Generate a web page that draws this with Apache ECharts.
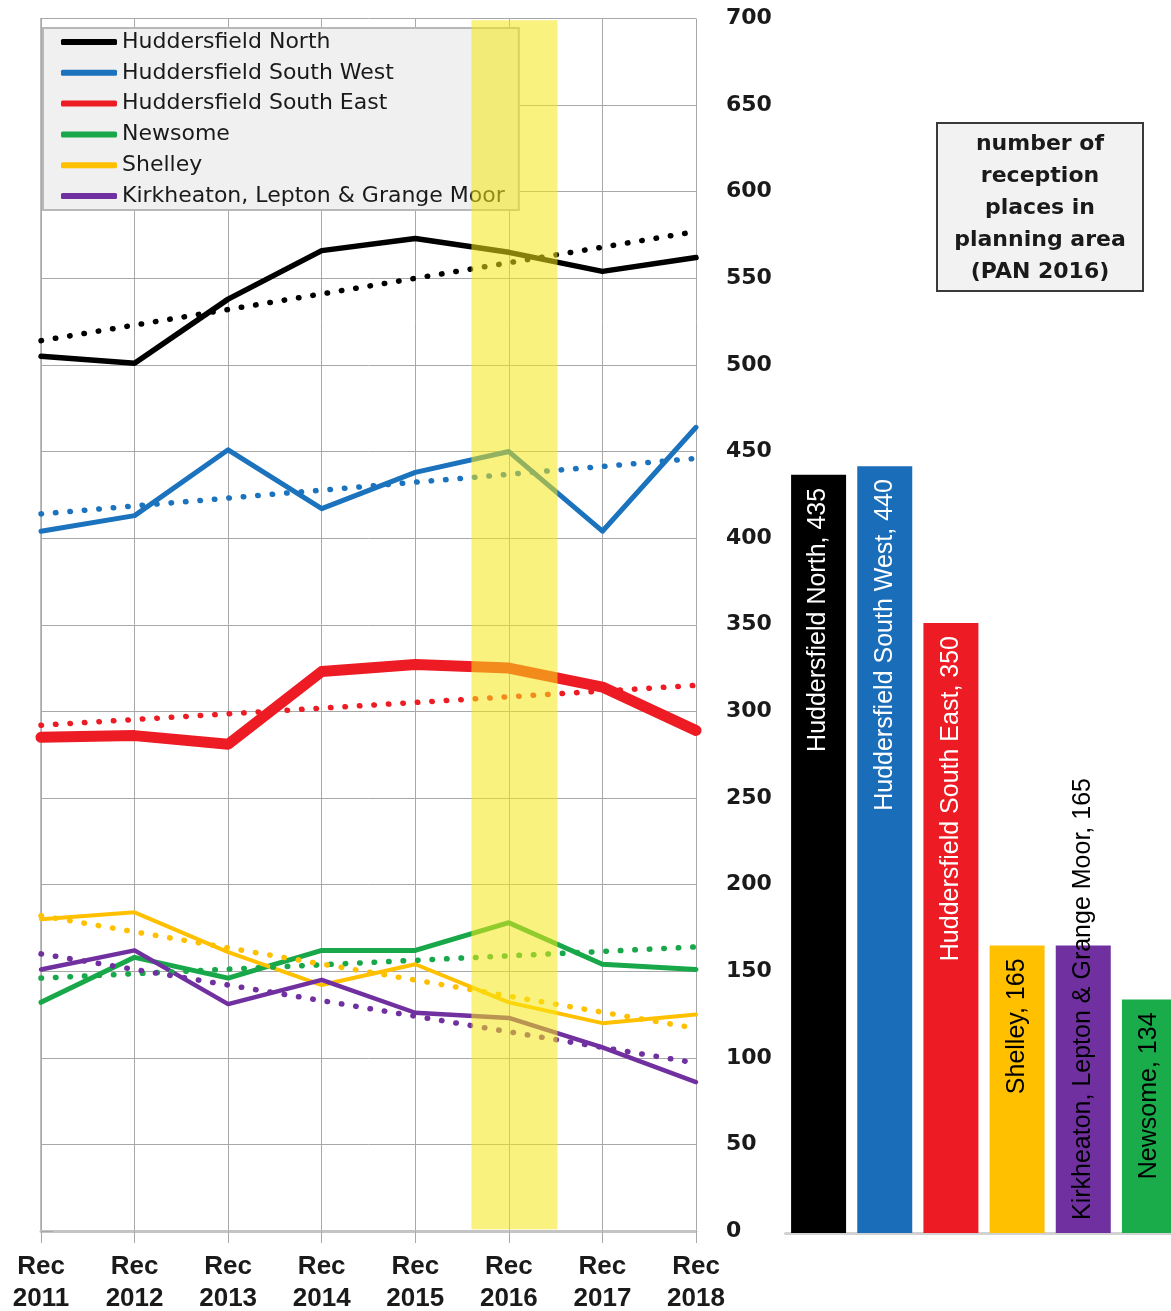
<!DOCTYPE html>
<html>
<head>
<meta charset="utf-8">
<title>Reception places by planning area</title>
<script src="https://cdn.jsdelivr.net/npm/echarts@6/dist/echarts.min.js"></script>
<style>
  html, body { margin: 0; padding: 0; background: #ffffff; }
  #chart { width: 1171px; height: 1311px; }
</style>
</head>
<body>
<div id="chart"></div>
<script>
// Intake years on the horizontal axis
const years = ['Rec\n2011', 'Rec\n2012', 'Rec\n2013', 'Rec\n2014', 'Rec\n2015', 'Rec\n2016', 'Rec\n2017', 'Rec\n2018'];

// Planning areas, in legend order
const areaNames = [
  'Huddersfield North',
  'Huddersfield South West',
  'Huddersfield South East',
  'Newsome',
  'Shelley',
  'Kirkheaton, Lepton & Grange Moor'
];

// Reception numbers per year for each planning area
const north      = [505, 501, 538, 566, 573, 565, 554, 562];
const southWest  = [404, 413, 451, 417, 438, 450, 404, 464];
const southEast  = [285, 286, 281, 323, 327, 325, 314, 289];
const newsome    = [132, 158, 146, 162, 162, 178, 154, 151];
const shelley    = [180, 184, 161, 142, 154, 132, 120, 125];
const kirkheaton = [151, 162, 131, 145, 126, 123, 106, 86];

// Linear trend lines: value at Rec 2011 and at Rec 2018 for each area
const trendStart = [514, 414, 292, 146, 182, 160];
const trendEnd   = [577, 446, 315, 164, 117, 97];

// Published admission numbers (PAN 2016) per planning area
const panNames  = ['Huddersfield North', 'Huddersfield South West', 'Huddersfield South East', 'Shelley', 'Kirkheaton, Lepton & Grange Moor', 'Newsome'];
const panPlaces = [435, 440, 350, 165, 165, 134];

// Value-axis ticks
const yMin = 0, yMax = 700, yStep = 50;

// Highlighted year (Rec 2016) band, in category-index units
const highlightFrom = 4.6, highlightTo = 5.52;

const areaSeries = [north, southWest, southEast, newsome, shelley, kirkheaton];
const lineColors = ['#000000', '#1b72bd', '#ed1c24', '#18a84a', '#ffc000', '#7030a0'];
const lineWidths = [5.5, 5, 11, 5, 4, 4.5];
const barColors  = {
  'Huddersfield North': '#000000',
  'Huddersfield South West': '#1a6eb9',
  'Huddersfield South East': '#ed1c24',
  'Shelley': '#ffc000',
  'Kirkheaton, Lepton & Grange Moor': '#7030a0',
  'Newsome': '#1aab4b'
};
const darkBars = ['Huddersfield North', 'Huddersfield South West', 'Huddersfield South East'];

const chart = echarts.init(document.getElementById('chart'), null, { renderer: 'canvas' });

const gridColor = '#a8a8a8';
const series = [];

// Yearly lines
areaSeries.forEach((values, i) => {
  series.push({
    name: areaNames[i],
    type: 'line',
    xAxisIndex: 0,
    yAxisIndex: 0,
    data: values,
    symbol: 'none',
    z: 3,
    lineStyle: { color: lineColors[i], width: lineWidths[i], cap: 'round', join: 'round' },
    itemStyle: { color: lineColors[i] },
    emphasis: { disabled: true }
  });
});

// Dotted trend lines
areaSeries.forEach((values, i) => {
  series.push({
    name: areaNames[i] + ' (trend)',
    type: 'line',
    xAxisIndex: 1,
    yAxisIndex: 0,
    data: [[0, trendStart[i]], [years.length - 1, trendEnd[i]]],
    symbol: 'none',
    z: 3,
    lineStyle: { color: lineColors[i], width: 5.5, type: [0.5, 14], cap: 'round' },
    emphasis: { disabled: true }
  });
});

// Translucent band marking the PAN year, laid over lines and legend
series.push({
  name: 'band',
  type: 'line',
  xAxisIndex: 1,
  yAxisIndex: 0,
  data: [],
  z: 20,
  silent: true,
  markArea: {
    silent: true,
    z: 20,
    itemStyle: { color: 'rgba(246, 232, 20, 0.55)' },
    data: [[{ xAxis: highlightFrom, yAxis: 1 }, { xAxis: highlightTo, yAxis: yMax - 1 }]]
  }
});

// PAN bars with rotated labels
series.push({
  name: 'PAN 2016',
  type: 'bar',
  xAxisIndex: 2,
  yAxisIndex: 1,
  barWidth: 55,
  z: 3,
  data: panPlaces.map((v, i) => {
    const name = panNames[i];
    const longLabel = name === 'Kirkheaton, Lepton & Grange Moor';
    return {
      value: v,
      itemStyle: { color: barColors[name] },
      label: {
        color: darkBars.includes(name) ? '#ffffff' : '#000000',
        position: longLabel ? 'insideBottom' : 'insideTop',
        align: longLabel ? 'left' : 'right'
      }
    };
  }),
  label: {
    show: true,
    rotate: 90,
    distance: 13,
    verticalAlign: 'middle',
    formatter: '{b}, {c}',
    fontFamily: "'Liberation Sans', sans-serif",
    fontSize: 25
  },
  emphasis: { disabled: true }
});

const option = {
  animation: false,
  backgroundColor: '#ffffff',
  legend: {
    data: areaNames,
    orient: 'vertical',
    left: 43,
    top: 28,
    z: 5,
    backgroundColor: '#f0f0f0',
    borderColor: '#b8b8b8',
    borderWidth: 2,
    padding: [2, 14, 2, 18],
    itemWidth: 56,
    itemHeight: 6,
    itemGap: 6.8,
    icon: 'roundRect',
    selectedMode: false,
    textStyle: {
      fontFamily: "'DejaVu Sans', sans-serif",
      fontSize: 22,
      lineHeight: 24,
      color: '#1a1a1a'
    }
  },
  grid: [
    { left: 41, right: 475, top: 18.5, bottom: 80, outerBoundsMode: 'none', containLabel: false },
    { left: 785.5, width: 397, top: 13, bottom: 78, outerBoundsMode: 'none', containLabel: false }
  ],
  xAxis: [
    {
      type: 'category',
      gridIndex: 0,
      data: years,
      boundaryGap: false,
      axisLine: { show: true, lineStyle: { color: '#c4c4c4', width: 3 } },
      axisTick: { show: true, length: 12, lineStyle: { color: gridColor, width: 1 } },
      splitLine: { show: true, lineStyle: { color: gridColor, width: 1 } },
      axisLabel: {
        margin: 20,
        color: '#1a1a1a',
        fontFamily: "'Liberation Sans', sans-serif",
        fontWeight: 'bold',
        fontSize: 26,
        lineHeight: 32
      }
    },
    {
      type: 'value',
      gridIndex: 0,
      min: 0,
      max: years.length - 1,
      show: false
    },
    {
      type: 'category',
      gridIndex: 1,
      data: panNames,
      axisLine: { show: true, lineStyle: { color: '#d2d2d2', width: 3 } },
      axisTick: { show: false },
      axisLabel: { show: false },
      splitLine: { show: false }
    }
  ],
  yAxis: [
    {
      type: 'value',
      gridIndex: 0,
      position: 'right',
      min: yMin,
      max: yMax,
      interval: yStep,
      axisLine: { show: true, lineStyle: { color: gridColor, width: 1.5 } },
      axisTick: { show: true, length: 12, lineStyle: { color: gridColor, width: 1 } },
      splitLine: { show: true, lineStyle: { color: gridColor, width: 1 } },
      axisLabel: {
        margin: 30,
        color: '#1a1a1a',
        fontFamily: "'DejaVu Sans', sans-serif",
        fontWeight: 'bold',
        fontSize: 22
      }
    },
    {
      type: 'value',
      gridIndex: 1,
      min: yMin,
      max: yMax,
      show: false
    }
  ],
  graphic: [
    {
      type: 'group',
      children: [
        {
          type: 'rect',
          shape: { x: 937, y: 123, width: 206, height: 168 },
          style: { fill: '#f2f2f2', stroke: '#3a3a3a', lineWidth: 2 }
        },
        {
          type: 'text',
          x: 1040,
          y: 128,
          style: {
            text: 'number of\nreception\nplaces in\nplanning area\n(PAN 2016)',
            font: "bold 22px 'DejaVu Sans', sans-serif",
            lineHeight: 32,
            align: 'center',
            verticalAlign: 'top',
            fill: '#1a1a1a'
          }
        }
      ]
    }
  ],
  series: series
};

chart.setOption(option);
</script>
</body>
</html>
